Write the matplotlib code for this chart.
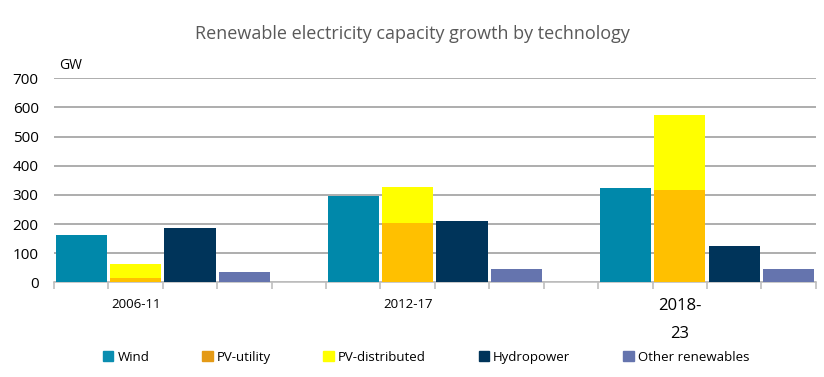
import matplotlib.pyplot as plt
from matplotlib.patches import Patch

periods = ["2006-11", "2012-17", "2018-\n23"]
wind = [162, 297, 324]
pv_utility = [15, 203, 316]
pv_distributed = [49, 125, 259]
hydro = [186, 210, 124]
other = [36, 46, 46]

plt.rcParams['font.family'] = ['Open Sans', 'DejaVu Sans']

fig = plt.figure(figsize=(8.24, 3.77), dpi=100)
ax = fig.add_axes([0.0655, 0.2512, 0.9245, 0.5411])

w = 0.94
# 4 bars per period plus one empty slot
starts = [i * 5 for i in range(len(periods))]
ax.bar([s + 0 for s in starts], wind, w, color='#0088AA', zorder=3)
ax.bar([s + 1 for s in starts], pv_utility, w, color='#FFC000', zorder=3)
ax.bar([s + 1 for s in starts], pv_distributed, w, bottom=pv_utility, color='#FFFF00', zorder=3)
ax.bar([s + 2 for s in starts], hydro, w, color='#00345A', zorder=3)
ax.bar([s + 3 for s in starts], other, w, color='#6574AE', zorder=3)

ax.set_xlim(-0.5, 13.5)
ax.set_ylim(0, 700)
ax.set_yticks(range(0, 701, 100))
ax.yaxis.grid(True, color='#A0A0A0', linewidth=1.2, zorder=0)
ax.tick_params(axis='y', length=0, labelsize=11, pad=11)

ax.set_xticks([s + 1 for s in starts])
ax.set_xticklabels(periods)
for i, lab in enumerate(ax.get_xticklabels()):
    lab.set_fontsize(12 if i == 2 else 9.5)
    lab.set_linespacing(2.0)
ax.set_xticks([x - 0.5 for x in range(15)], minor=True)
ax.tick_params(axis='x', which='major', length=0, pad=11)
ax.tick_params(axis='x', which='minor', length=5, color='#BFBFBF', width=1.2)

for s in ['top', 'right', 'left']:
    ax.spines[s].set_visible(False)
ax.spines['bottom'].set_color('#BFBFBF')
ax.spines['bottom'].set_linewidth(1.2)

ax.text(-0.4, 718, "GW", fontsize=10, va='bottom')
fig.suptitle("Renewable electricity capacity growth by technology",
             y=0.935, fontsize=13, color='#595959')

handles = [Patch(color='#0A8DB0', label='Wind'),
           Patch(color='#E49A16', label='PV-utility'),
           Patch(color='#FFFF00', label='PV-distributed'),
           Patch(color='#00345A', label='Hydropower'),
           Patch(color='#6574AE', label='Other renewables')]
fig.legend(handles=handles, loc='center', bbox_to_anchor=(0.517, 0.053), ncol=5,
           frameon=False, fontsize=9.5, handlelength=0.8, handleheight=0.8,
           handletextpad=0.3, columnspacing=4.0)

plt.savefig('out.png', dpi=100)
